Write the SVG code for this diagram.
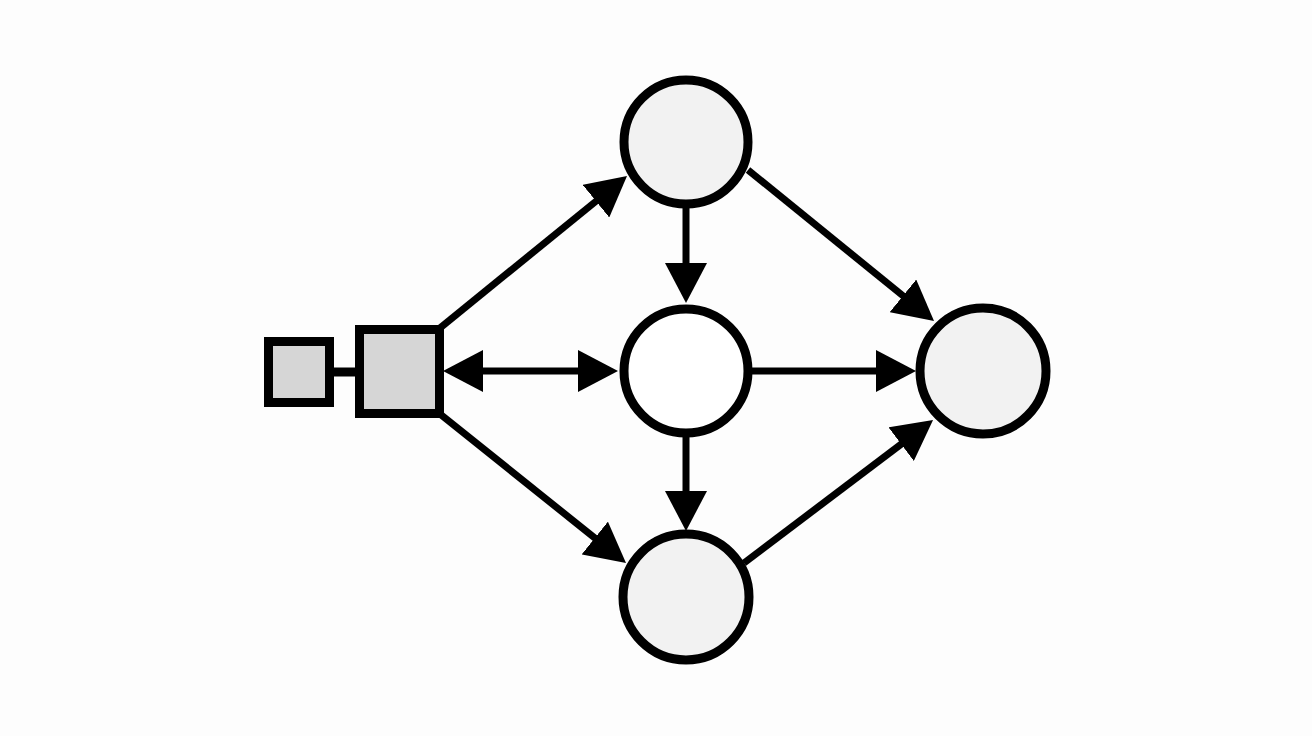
<svg xmlns="http://www.w3.org/2000/svg" width="1312" height="736" viewBox="0 0 1312 736">
  <style>
    .node { stroke: #000; stroke-width: 9; }
    .sq { fill: #d6d6d6; }
    .gray { fill: #f2f2f2; }
    .white { fill: #ffffff; }
    .edge { stroke: #000; stroke-width: 7; fill: none; }
  </style>
  <defs>
    <marker id="arrow" markerUnits="userSpaceOnUse" markerWidth="40" markerHeight="42" viewBox="0 0 40 42" refX="20" refY="21" orient="auto-start-reverse">
      <path d="M0,0 L40,21 L0,42 z" fill="#000"/>
    </marker>
  </defs>
  <rect width="1312" height="736" fill="#fdfdfd"/>
  <g id="connectors">
    <line class="edge" x1="330" y1="372" x2="360" y2="372" style="stroke-width:9"/>
    <line class="edge" x1="463" y1="371" x2="598" y2="371" marker-start="url(#arrow)" marker-end="url(#arrow)"/>
    <line class="edge" x1="440" y1="328" x2="611.5" y2="188.6" marker-end="url(#arrow)"/>
    <line class="edge" x1="440" y1="414" x2="610.4" y2="550.5" marker-end="url(#arrow)"/>
    <line class="edge" x1="686" y1="208" x2="686" y2="283" marker-end="url(#arrow)"/>
    <line class="edge" x1="686" y1="436" x2="686" y2="511" marker-end="url(#arrow)"/>
    <line class="edge" x1="752" y1="371" x2="896" y2="371" marker-end="url(#arrow)"/>
    <line class="edge" x1="748" y1="170" x2="918.5" y2="308.4" marker-end="url(#arrow)"/>
    <line class="edge" x1="744" y1="563" x2="917.1" y2="432.1" marker-end="url(#arrow)"/>
  </g>
  <g id="small-square">
    <rect class="node sq" x="268.5" y="341.5" width="61" height="61"/>
  </g>
  <g id="large-square">
    <rect class="node sq" x="359.5" y="329.5" width="80" height="84"/>
  </g>
  <g id="top-circle">
    <circle class="node gray" cx="686" cy="142" r="62"/>
  </g>
  <g id="middle-circle">
    <circle class="node white" cx="686" cy="371" r="62"/>
  </g>
  <g id="bottom-circle">
    <circle class="node gray" cx="686" cy="597" r="63"/>
  </g>
  <g id="right-circle">
    <circle class="node gray" cx="983" cy="371" r="63"/>
  </g>
</svg>
